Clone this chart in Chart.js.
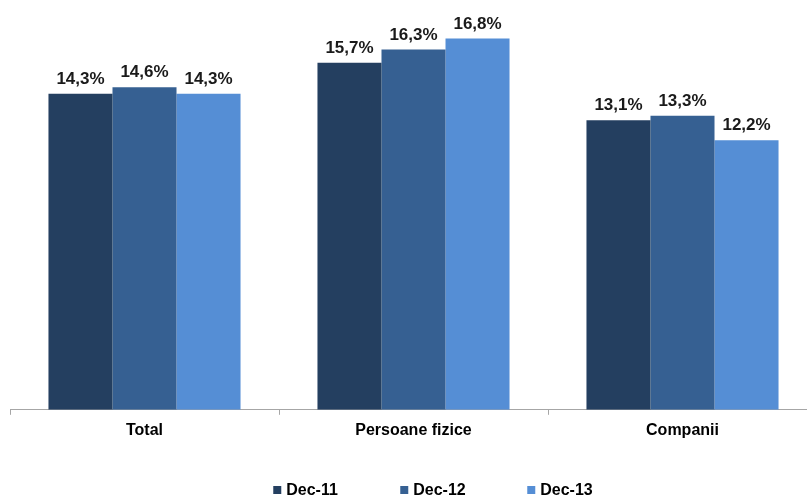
<!DOCTYPE html>
<html>
<head>
<meta charset="utf-8">
<script src="https://cdn.jsdelivr.net/npm/chart.js@4.4.0/dist/chart.umd.min.js"></script>
<style>
  html, body { margin: 0; padding: 0; background: #fff; overflow: hidden; }
  #wrap { width: 820px; height: 501px; }
</style>
</head>
<body>
<div id="wrap"><canvas id="chart"></canvas></div>
<script>
const categories = ['Total', 'Persoane fizice', 'Companii'];
const seriesNames = ['Dec-11', 'Dec-12', 'Dec-13'];
const dec11 = [14.3, 15.7, 13.1];
const dec12 = [14.6, 16.3, 13.3];
const dec13 = [14.3, 16.8, 12.2];
const colors = ['#243F60', '#366092', '#558ED5'];

const FONT = "'Liberation Sans', Arial, sans-serif";

// value labels above each bar, comma decimal
const valueLabels = {
    id: 'valueLabels',
    afterDatasetsDraw(chart) {
        const ctx = chart.ctx;
        ctx.save();
        ctx.font = 'bold 17px ' + FONT;
        ctx.fillStyle = '#1a1a1a';
        ctx.textAlign = 'center';
        ctx.textBaseline = 'alphabetic';
        chart.data.datasets.forEach((ds, i) => {
            chart.getDatasetMeta(i).data.forEach((bar, j) => {
                const txt = ds.data[j].toFixed(1).replace('.', ',') + '%';
                ctx.fillText(txt, bar.x, bar.y - 10);
            });
        });
        ctx.restore();
    }
};

// legend drawn by hand so it can sit where the original has it
const bottomLegend = {
    id: 'bottomLegend',
    afterDraw(chart) {
        const ctx = chart.ctx;
        ctx.save();
        ctx.font = 'bold 16px ' + FONT;
        ctx.textBaseline = 'middle';
        const step = 127, box = 8, gap = 5, cy = 490;
        const sets = chart.data.datasets;
        const lastW = ctx.measureText(sets[sets.length - 1].label).width;
        const total = step * (sets.length - 1) + box + gap + lastW;
        let x = 433 - total / 2;
        sets.forEach(ds => {
            ctx.fillStyle = ds.backgroundColor;
            ctx.fillRect(x, cy - box / 2, box, box);
            ctx.fillStyle = '#000';
            ctx.fillText(ds.label, x + box + gap, cy + 1);
            x += step;
        });
        ctx.restore();
    }
};

new Chart(document.getElementById('chart'), {
    type: 'bar',
    data: {
        labels: categories,
        datasets: [dec11, dec12, dec13].map((d, i) => ({
            label: seriesNames[i],
            data: d,
            backgroundColor: colors[i],
            categoryPercentage: 0.714,
            barPercentage: 1.0
        }))
    },
    options: {
        responsive: true,
        maintainAspectRatio: false,
        animation: false,
        layout: { padding: { left: 10, right: 3, top: 12, bottom: 55 } },
        scales: {
            x: {
                grid: { drawOnChartArea: false, drawTicks: true, tickLength: 5, color: '#A6A6A6', offset: true },
                border: { color: '#A6A6A6', width: 1 },
                ticks: { color: '#000', padding: 6, font: { family: FONT, size: 16, weight: 'bold' } }
            },
            y: { display: false, min: 0, max: 18 }
        },
        plugins: {
            legend: { display: false },
            tooltip: { enabled: false }
        }
    },
    plugins: [valueLabels, bottomLegend]
});
</script>
</body>
</html>
